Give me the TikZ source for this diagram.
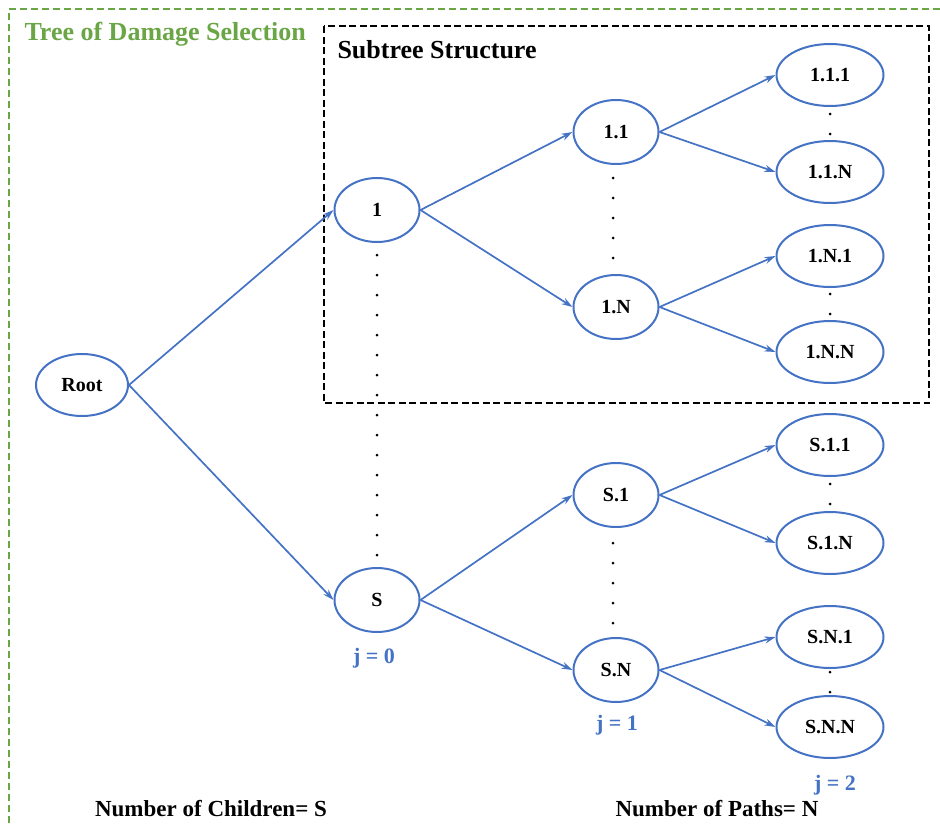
\documentclass[tikz,border=0pt]{standalone}
\usepackage{fontspec}
\setmainfont{Liberation Serif}
\usetikzlibrary{shapes.geometric,arrows.meta}
\definecolor{oblue}{HTML}{4472C4}
\definecolor{ogreen}{HTML}{6AA546}
\begin{document}
\begin{tikzpicture}[x=1pt,y=-1pt,
  nd/.style={ellipse,draw=oblue,line width=2pt,inner sep=0pt,minimum width=85pt,minimum height=64pt,font=\fontsize{20}{24}\selectfont\bfseries},
  leaf/.style={nd,minimum width=107pt,minimum height=62pt},
  rootnd/.style={nd,minimum width=92pt,minimum height=62pt},
  edge/.style={draw=oblue,line width=1.7pt,-{Stealth[length=11pt,width=7pt]}},
  jlab/.style={text=oblue,font=\fontsize{22}{26}\selectfont\bfseries},
  dotc/.style={fill=black,circle,inner sep=0pt,minimum size=3pt},
  lab/.style={font=\fontsize{23}{27}\selectfont\bfseries}]
\useasboundingbox (0,0) rectangle (940,825);
% green frame
\draw[ogreen,line width=2pt,dash pattern=on 7pt off 4pt] (940,9) -- (9,9) -- (9,825);
\node[anchor=base west,text=ogreen,font=\fontsize{26}{31}\selectfont\bfseries] (title) at (21,40) {Tree of Damage Selection};
% subtree box
\draw[black,line width=2pt,dash pattern=on 7pt off 3.5pt] (324,26) rectangle (929,403);
\node[anchor=base west,font=\fontsize{26}{31}\selectfont\bfseries] (sub) at (334,58) {Subtree Structure};
% nodes
\node[rootnd] (root) at (82,385) {Root};
\node[nd] (n1) at (377,210) {1};
\node[nd] (nS) at (377,600) {S};
\node[nd] (n11) at (616,132) {1.1};
\node[nd] (n1N) at (616,307) {1.N};
\node[nd] (nS1) at (616,495) {S.1};
\node[nd] (nSN) at (616,670) {S.N};
\node[leaf] (n111) at (830,75) {1.1.1};
\node[leaf] (n11N) at (830,172) {1.1.N};
\node[leaf] (n1N1) at (830,256) {1.N.1};
\node[leaf] (n1NN) at (830,352) {1.N.N};
\node[leaf] (nS11) at (830,445) {S.1.1};
\node[leaf] (nS1N) at (830,543) {S.1.N};
\node[leaf] (nSN1) at (830,637) {S.N.1};
\node[leaf] (nSNN) at (830,727) {S.N.N};
% edges
\foreach \a/\b in {root/n1,root/nS,n1/n11,n1/n1N,nS/nS1,nS/nSN,n11/n111,n11/n11N,n1N/n1N1,n1N/n1NN,nS1/nS11,nS1/nS1N,nSN/nSN1,nSN/nSNN}
  \draw[edge] (\a.east) -- (\b.west);
% dots
\foreach \i in {0,...,15} \node[dotc] (da\i) at (377,255+20*\i) {};
\foreach \i in {0,...,4} \node[dotc] (db\i) at (613,178+20*\i) {};
\foreach \i in {0,...,4} \node[dotc] (dc\i) at (613,543+20*\i) {};
\foreach \m/\k in {124/d,304/e,494/f,682/g} {
  \node[dotc] (\k1) at (830,\m-10) {};
  \node[dotc] (\k2) at (830,\m+10) {};
}
% labels
\node[jlab] (j0) at (374,658) {j = 0};
\node[jlab] (j1) at (617,725) {j = 1};
\node[jlab] (j2) at (835,785) {j = 2};
\node[lab] (nc) at (211,809) {Number of Children= S};
\node[lab] (np) at (717,809) {Number of Paths= N};
\end{tikzpicture}
\end{document}
